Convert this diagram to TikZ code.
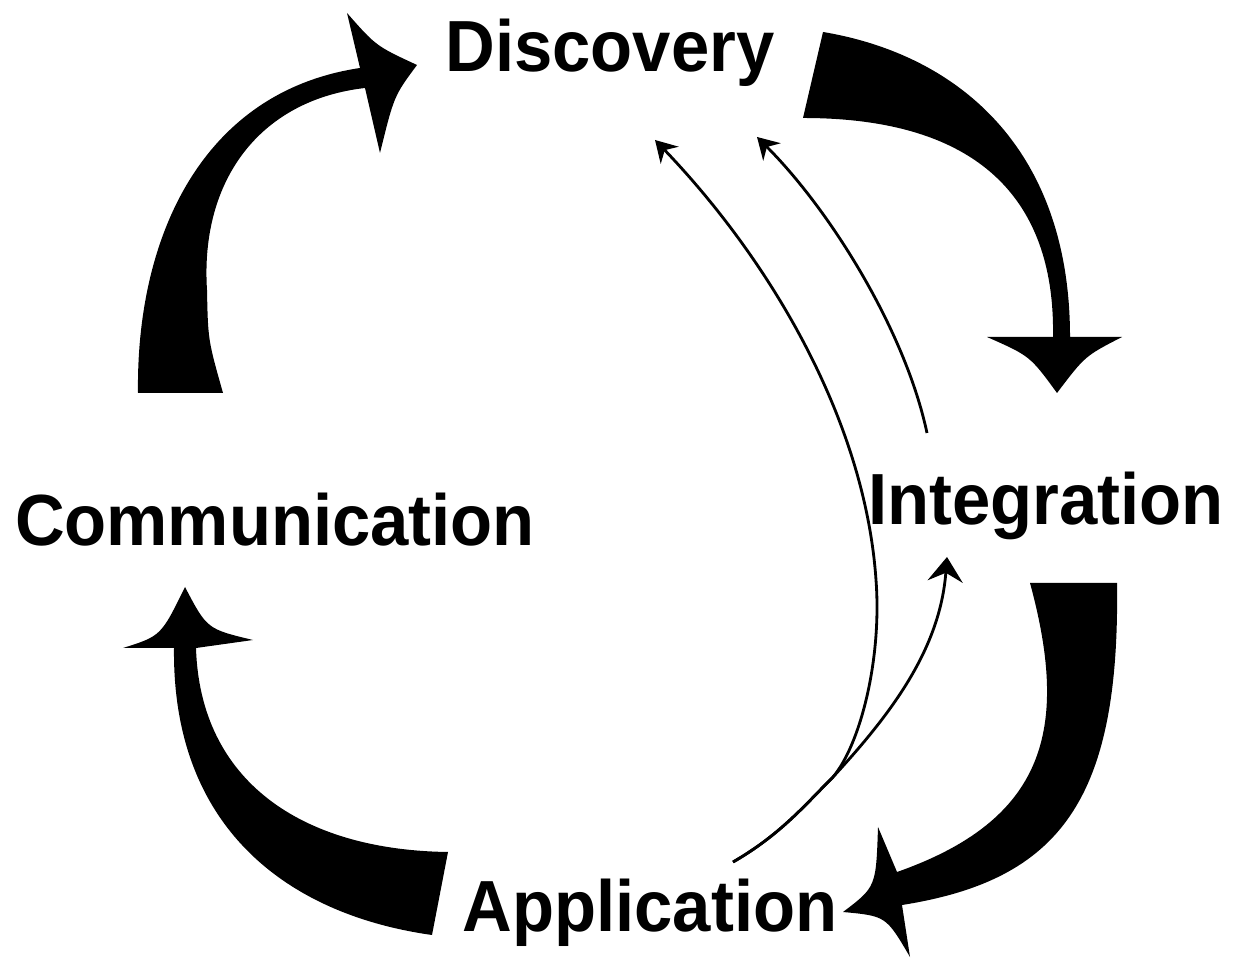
\documentclass[tikz,border=0pt]{standalone}
\usepackage{fontspec}
\newfontfamily\labfont{Liberation Sans}
\usetikzlibrary{arrows.meta}
\begin{document}
\begin{tikzpicture}[x=0.01cm,y=-0.01cm,
  lab/.style={font=\labfont\bfseries\fontsize{20.6pt}{24pt}\selectfont, inner sep=0pt, anchor=base},
  bigarrow/.style={fill=black},
  thinarrow/.style={line width=0.8pt, -{Stealth[length=6pt,width=7pt,inset=2pt]}},
  thinarrowb/.style={line width=0.8pt, -{Stealth[length=7pt,width=10pt,inset=2.5pt]}}]
\useasboundingbox (0,0) rectangle (1240,962);

% labels
\node[lab] (disc)  at (610,72)  {\scalebox{0.95}[1]{Discovery}};
\node[lab] (comm)  at (275,546) {\scalebox{0.95}[1]{Communication}};
\node[lab] (integ) at (1046,525) {\scalebox{0.95}[1]{Integration}};
\node[lab] (appl)  at (650,932) {\scalebox{0.95}[1]{Application}};

% thick arrows
% Communication -> Discovery
\fill[bigarrow] (138,393) .. controls (136,240) and (200,92) .. (360,68)
  -- (347,13) .. controls (376,46) .. (417,65) .. controls (394,96) .. (380,153)
  -- (365,88) .. controls (260,100) and (200,180) .. (207,290)
  .. controls (208,340) .. (223,393) -- cycle;
% Discovery -> Integration
\fill[bigarrow] (823,32) .. controls (960,55) and (1070,150) .. (1070,337)
  -- (1122,337) .. controls (1085,356) .. (1057,393) .. controls (1030,356) .. (987,337)
  -- (1053,337) .. controls (1055,220) and (1000,118) .. (803,118) -- cycle;
% Integration -> Application
\fill[bigarrow] (1030,583) -- (1117,583) .. controls (1120,800) and (1060,880) .. (902,905)
  -- (910,957) .. controls (886,916) .. (843,912) .. controls (876,887) .. (878,827)
  -- (897,872) .. controls (1045,820) and (1070,730) .. (1030,583) -- cycle;
% Application -> Communication
\fill[bigarrow] (448,852) -- (432,935) .. controls (290,915) and (172,830) .. (174,648)
  -- (123,648) .. controls (161,636) .. (185,587) .. controls (207,629) .. (253,640)
  -- (196,648) .. controls (200,780) and (300,850) .. (448,852) -- cycle;

% thin arrows
\coordinate (appS) at (733,862);
\coordinate (join) at (833,777);
\coordinate (intS) at (927,433);
\coordinate (discA) at (655,140);
\coordinate (discB) at (757,137);
\coordinate (intE) at (947,557);
\draw[thinarrow] (appS) .. controls (780,835) and (805,805) .. (join)
  .. controls (860,745) and (882,660) .. (876,580)
  .. controls (865,420) and (770,260) .. (discA);
\draw[thinarrow] (intS) .. controls (905,330) and (830,210) .. (discB);
\draw[thinarrowb] (appS) .. controls (780,835) and (805,805) .. (join)
  .. controls (890,715) and (940,650) .. (intE);
\end{tikzpicture}
\end{document}
